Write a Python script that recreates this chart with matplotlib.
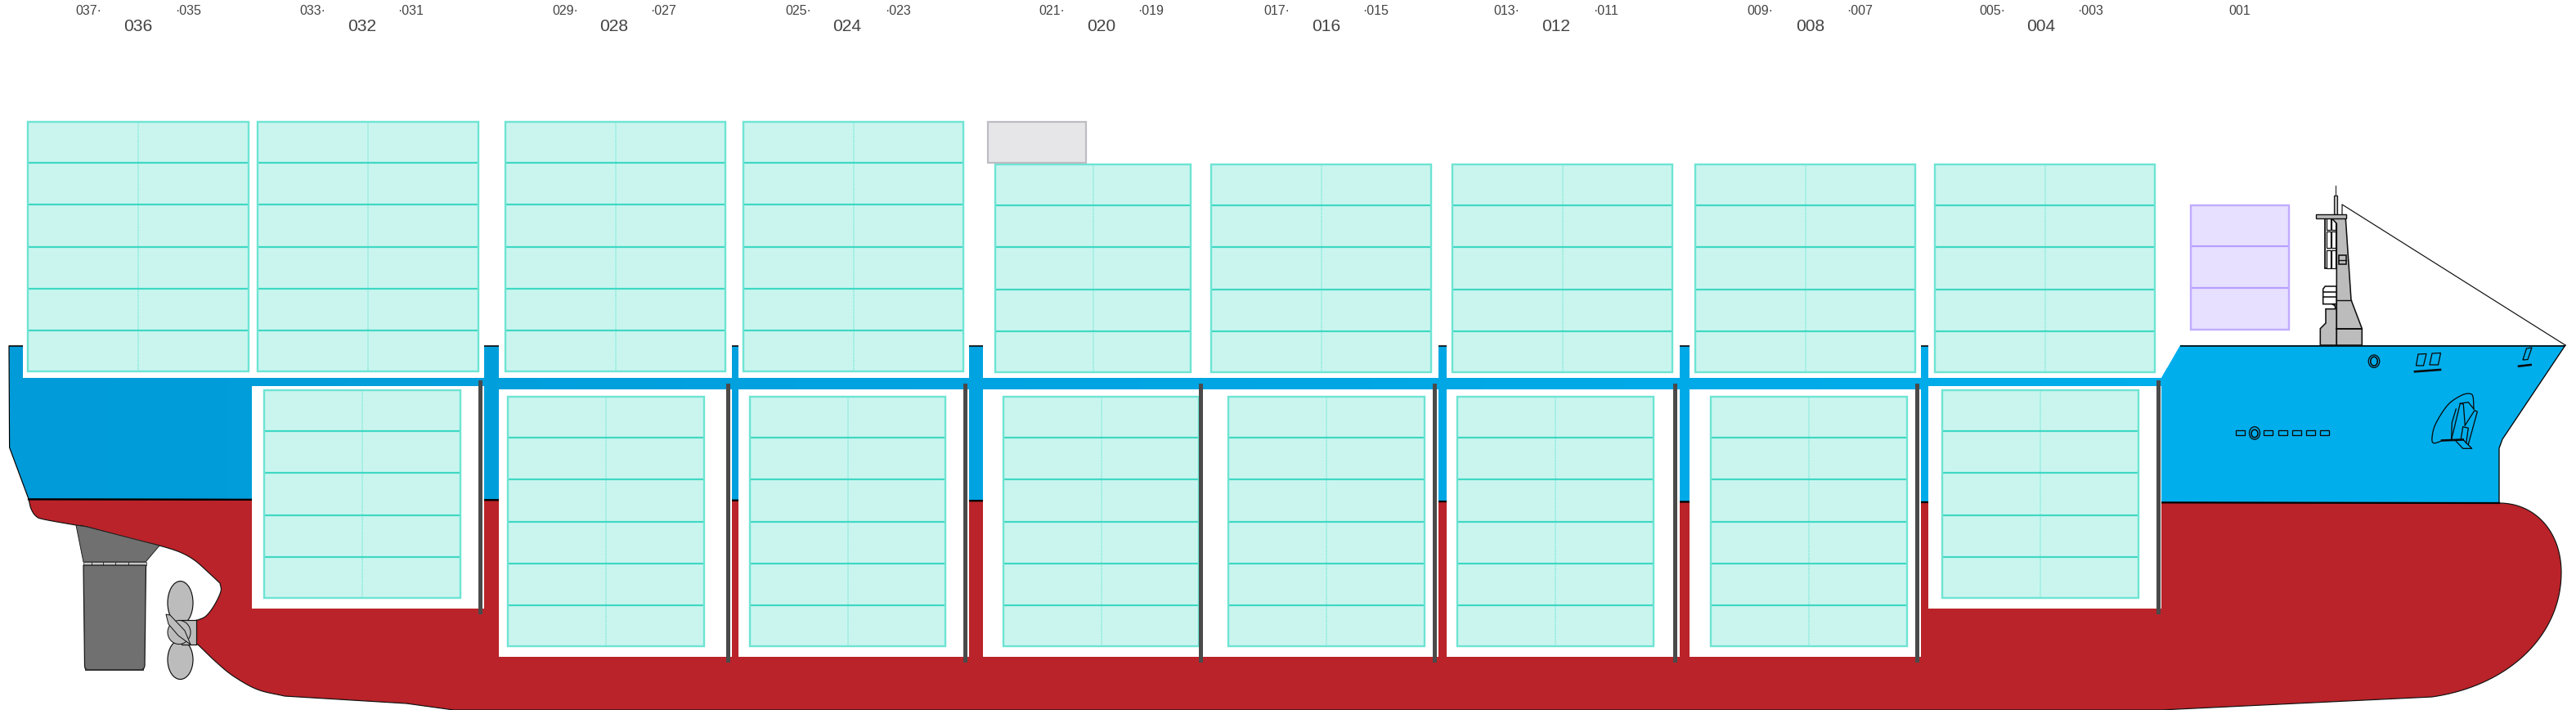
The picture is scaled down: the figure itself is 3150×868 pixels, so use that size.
import numpy as np
import matplotlib
matplotlib.use("Agg")
import matplotlib.pyplot as plt
from matplotlib.patches import Polygon, Rectangle, Ellipse
from matplotlib.colors import LinearSegmentedColormap

# everything is in picture pixels, y down

# bay labels along the top: (text, centre x)
small_labels = ["037·", "·035", "033·", "·031", "029·", "·027", "025·", "·023", "021·", "·019",
                "017·", "·015", "013·", "·011", "009·", "·007", "005·", "·003", "001"]
small_label_x = [108, 230, 382, 502, 691, 811, 976, 1098, 1286, 1407,
                 1561, 1682, 1842, 1963, 2152, 2274, 2436, 2556, 2739]
big_labels = ["036", "032", "028", "024", "020", "016", "012", "008", "004"]
big_label_x = [169, 443, 751, 1036, 1347, 1622, 1903, 2214, 2496]

# container stacks: left, right, top, number of rows
deck_left = [33, 314, 617, 908, 1216, 1480, 1775, 2072, 2365]
deck_right = [305, 586, 888, 1179, 1457, 1751, 2046, 2343, 2636]
deck_top = [148, 148, 148, 148, 200, 200, 200, 200, 200]
deck_rows = [6, 6, 6, 6, 5, 5, 5, 5, 5]

hold_left = [322, 620, 916, 1226, 1501, 1781, 2091, 2374]
hold_right = [564, 862, 1157, 1467, 1743, 2023, 2333, 2616]
hold_top = [476, 484, 484, 484, 484, 484, 484, 476]
hold_rows = [5, 6, 6, 6, 6, 6, 6, 5]

row_height = 51.2

# white openings in the hull
deck_gap_left = [28, 610, 903, 1202, 1769, 2066]
deck_gap_right = [592, 895, 1185, 1759, 2054, 2349]
hold_gap_left = [308, 610, 903, 1202, 1769, 2066, 2358]
hold_gap_right = [592, 895, 1185, 1759, 2054, 2349, 2643]
hold_gap_top = [472, 476, 476, 476, 476, 476, 472]
hold_gap_bottom = [744, 803, 803, 803, 803, 803, 744]

# dark bulkheads
bulkhead_x = [585, 888, 1178, 1466, 1752, 2046, 2342, 2637]
bulkhead_top = [465, 469, 469, 469, 469, 469, 469, 465]
bulkhead_bottom = [751, 810, 810, 810, 810, 810, 810, 751]

# black deck edge on top of each blue column
deck_edge_left = [11, 592, 895, 1185, 1759, 2054, 2349, 2666]
deck_edge_right = [28, 610, 903, 1202, 1769, 2066, 2358, 3137]

spare_box = (1207, 1329, 148, 200)
purple_left, purple_right, purple_top, purple_rows = 2678, 2800, 250, 3

blue_hull = [(11, 423), (2358, 423), (2358, 462), (2643, 462), (2666, 422), (3137, 422),
             (3060, 537), (3056, 548), (3056, 615), (35, 610), (11.6, 547)]
stern_curve = [(35, 610), (38, 622), (44, 631), (54, 635), (93, 642), (106, 644), (166, 660),
               (195, 667), (220, 675), (238, 685), (254, 699), (269, 713)]
aperture_curve = [(269, 713), (270, 723), (262, 740), (252, 753), (242, 758)]
skeg_curve = [(242, 788), (265, 810), (286, 827), (315, 843), (348, 851)]
bottom_line = [(497, 860), (555, 868), (2642, 868), (2974, 852)]
# bezier control points, bottom of the bow round to the waterline
bow_lower = [(2974, 852), (3070, 838), (3132, 775), (3132, 700)]
bow_upper = [(3132, 700), (3132, 650), (3100, 615), (3056, 615)]

skeg_fixed = [(93, 642), (106, 644), (195, 667), (178, 687), (102, 687)]
rudder = [(102, 691), (178.5, 691), (177, 814), (176, 817), (173, 819), (107, 819), (104, 817), (103.5, 814)]
rudder_ticks = [112, 126, 141, 157]

mast_column = [(2851.7, 267.3), (2857.3, 273.3), (2857.3, 422), (2888.3, 422), (2888.3, 401.7),
               (2875, 366.7), (2868.3, 267.3)]
mast_base = [(2837.3, 422), (2837.3, 401.7), (2844, 395), (2844, 377.7), (2856, 377.7),
             (2855, 373.5), (2851.7, 371.7), (2857.3, 371.7), (2857.3, 422)]
mast_stairs = [(2840.7, 371.7), (2840.7, 353.3), (2843.3, 350), (2857.3, 350), (2857.3, 371.7)]
stair_lines = [356.7, 363.3]
ladder_rows = [(267.3, 281), (283, 303), (305.5, 328.3)]

portholes_x = [2739, 2773, 2791, 2808, 2825, 2842]
anchor_pocket = [(2986, 539), (2976, 541.7), (2974, 535), (2978.3, 518.3), (2993.3, 495), (3010, 483.3),
                 (3020, 481.3), (3024, 485), (3025, 500)]
anchor_lines = [[(2997.7, 537.3), (3008.3, 493.3), (3012.3, 494), (3014.3, 520)],
                [(3008.3, 493.3), (3018.3, 491.7), (3025, 500)],
                [(3003.3, 500), (2998.3, 516.7), (2997.7, 537.3)],
                [(3014.3, 520), (3026, 501.7), (3029.3, 503.3), (3018.3, 543.3)],
                [(3009.3, 536.7), (3011.7, 521.7), (3018.3, 523.3), (3015.7, 541.7)],
                [(3003.3, 539.3), (3011.7, 548.3), (3022.7, 548.3), (3011.7, 537.3)]]
bow_windows = [[(2957, 433), (2967, 432.5), (2963.5, 447), (2954.5, 447)],
               [(2974, 432), (2984.5, 431.5), (2981.5, 446), (2971, 446)],
               [(3089.5, 426), (3096, 425), (3091, 439.5), (3085, 440)]]
bow_dashes = [[(2953, 454.3), (2984, 452)], [(3080, 447.7), (3094.7, 446)]]

blue_left = "#009bd8"
blue_right = "#00aeec"
red = "#ba2329"
cell_fill = "#caf5ef"
cell_edge = "#6ee4d3"
cell_line = "#3fd8c3"
cell_mid = "#8aebdc"
grey_part = "#bcbcbc"
rudder_grey = "#707070"


def px(n):
    return n * 0.72


def smooth(pts, n=10):
    # Catmull-Rom through the picked points so the hull curves are not faceted
    p = np.array(pts, dtype=float)
    p = np.vstack([2 * p[0] - p[1], p, 2 * p[-1] - p[-2]])
    out = []
    for i in range(1, len(p) - 2):
        for t in np.linspace(0, 1, n, endpoint=False):
            out.append(0.5 * (2 * p[i] + (p[i + 1] - p[i - 1]) * t
                              + (2 * p[i - 1] - 5 * p[i] + 4 * p[i + 1] - p[i + 2]) * t ** 2
                              + (3 * p[i] - p[i - 1] - 3 * p[i + 1] + p[i + 2]) * t ** 3))
    out.append(p[-2])
    return np.array(out)


def bezier(ctrl, n=40):
    p = np.array(ctrl, dtype=float)
    t = np.linspace(0, 1, n)[:, None]
    return (1 - t) ** 3 * p[0] + 3 * (1 - t) ** 2 * t * p[1] + 3 * (1 - t) * t ** 2 * p[2] + t ** 3 * p[3]


def draw_stack(ax, x0, x1, top, rows, fill=cell_fill, edge=cell_edge, line=cell_line, mid=cell_mid):
    bottom = top + rows * row_height
    ax.add_patch(Rectangle((x0, top), x1 - x0, bottom - top, facecolor=fill, edgecolor="none", zorder=4))
    if mid is not None:
        ax.plot([(x0 + x1) / 2] * 2, [top, bottom], color=mid, lw=px(1.6), ls=(0, (1, 0.6)), zorder=5)
    for r in range(1, rows):
        ax.plot([x0, x1], [top + r * row_height] * 2, color=line, lw=px(2.2), solid_capstyle="butt", zorder=5)
    # border sits just inside the cell area
    ax.add_patch(Rectangle((x0 + 1, top + 1), x1 - x0 - 2, bottom - top - 2, facecolor="none",
                           edgecolor=edge, lw=px(2.4), zorder=6))


plt.rcParams["font.family"] = ["Liberation Sans", "DejaVu Sans"]
fig = plt.figure(figsize=(31.5, 8.68), dpi=100)
ax = fig.add_axes([0, 0, 1, 1])

# hull
grad = LinearSegmentedColormap.from_list("hull", [blue_left, blue_right])
img = ax.imshow(np.linspace(0, 1, 256).reshape(1, -1), cmap=grad, extent=(0, 2650, 868, 0),
                aspect="auto", zorder=1)
blue_patch = Polygon(blue_hull, closed=True, facecolor="none", edgecolor="none", zorder=1)
ax.add_patch(blue_patch)
img.set_clip_path(blue_patch)
right_part = np.array([p for p in blue_hull if p[0] >= 2643] + [(2643, 615)])
ax.add_patch(Polygon(right_part, closed=True, facecolor=blue_right, edgecolor="none", zorder=1))
ax.add_patch(Rectangle((2600, 462), 60, 153, facecolor=blue_right, edgecolor="none", zorder=1))

red_outline = np.vstack([smooth(stern_curve), smooth(aperture_curve),
                         [(240, 758), (240, 788)], smooth(skeg_curve),
                         bottom_line, bezier(bow_lower), bezier(bow_upper)])
ax.add_patch(Polygon(red_outline, closed=True, facecolor=red, edgecolor="#111111", lw=px(1.2), zorder=2))

# outer black lines
ax.plot([11, 11.6, 35], [423, 547, 610], color="black", lw=px(1.2), zorder=2)
ax.plot([3137, 3060, 3056, 3056], [422, 537, 548, 615], color="black", lw=px(1.3), zorder=2)
ax.plot([35, 3056], [610.5, 615], color="black", lw=px(2.2), zorder=3)

for x0, x1 in zip(deck_gap_left, deck_gap_right):
    ax.add_patch(Rectangle((x0, 415), x1 - x0, 47, facecolor="white", edgecolor="none", zorder=3))
for x0, x1, y0, y1 in zip(hold_gap_left, hold_gap_right, hold_gap_top, hold_gap_bottom):
    ax.add_patch(Rectangle((x0, y0), x1 - x0, y1 - y0, facecolor="white", edgecolor="none", zorder=3))
for x0, x1 in zip(deck_edge_left, deck_edge_right):
    ax.plot([x0, x1], [422.5, 422.5], color="black", lw=px(1.6), solid_capstyle="butt", zorder=3)

# containers
for x0, x1, top, rows in zip(deck_left, deck_right, deck_top, deck_rows):
    draw_stack(ax, x0, x1, top, rows)
for x0, x1, top, rows in zip(hold_left, hold_right, hold_top, hold_rows):
    draw_stack(ax, x0, x1, top, rows)
draw_stack(ax, purple_left, purple_right, purple_top, purple_rows, fill="#e7e0ff", edge="#c0acff",
           line="#b69fff", mid=None)
ax.add_patch(Rectangle((spare_box[0] + 1, spare_box[2] + 1), spare_box[1] - spare_box[0] - 2,
                       spare_box[3] - spare_box[2] - 2,
                       facecolor="#e6e6e8", edgecolor="#bdbcc3", lw=px(2.2), zorder=6))

for x, y0, y1 in zip(bulkhead_x, bulkhead_top, bulkhead_bottom):
    ax.add_patch(Rectangle((x, y0), 5, y1 - y0, facecolor="#4a4a4a", edgecolor="none", zorder=7))

# rudder and propeller
ax.add_patch(Polygon(skeg_fixed, closed=True, facecolor=rudder_grey, edgecolor="#222222", lw=px(1), zorder=3))
ax.add_patch(Rectangle((102, 687), 76.5, 4, facecolor="#c8c8c8", edgecolor="#333333", lw=px(0.8), zorder=3))
for x in rudder_ticks:
    ax.plot([x, x], [687, 691], color="#333333", lw=px(1), zorder=3)
ax.add_patch(Polygon(rudder, closed=True, facecolor=rudder_grey, edgecolor="#111111", lw=px(1.2), zorder=3))
ax.plot([105, 175], [819, 819], color="#333333", lw=px(2), zorder=3)

ax.add_patch(Ellipse((220.5, 737), 31, 53, facecolor=grey_part, edgecolor="#111111", lw=px(1.2), zorder=3))
ax.add_patch(Ellipse((220.5, 806.5), 31, 48, facecolor=grey_part, edgecolor="#111111", lw=px(1.2), zorder=3))
ax.add_patch(Polygon([(218, 758), (240, 758), (240, 788), (222, 788)], closed=True, facecolor=grey_part,
                     edgecolor="#111111", lw=px(1.2), zorder=4))
ax.add_patch(Ellipse((219, 773), 28, 29, facecolor=grey_part, edgecolor="#111111", lw=px(1), zorder=4))
ax.add_patch(Polygon([(203, 751), (208, 752), (226, 771), (233, 788), (218, 777), (206, 763)], closed=True,
                     facecolor=grey_part, edgecolor="#111111", lw=px(1), zorder=5))

# forward mast
ax.plot([2864, 2864, 3137], [262, 250, 422], color="#111111", lw=px(1.2), zorder=3)
ax.add_patch(Polygon(mast_stairs, closed=True, facecolor="white", edgecolor="#111111", lw=px(1.6), zorder=3))
for y in stair_lines:
    ax.plot([2840.7, 2857.3], [y, y], color="#111111", lw=px(1.6), zorder=3)
ax.add_patch(Rectangle((2842.7, 267), 14.6, 61.3, facecolor="#dddddd", edgecolor="#111111", lw=px(1.8), zorder=3))
for y0, y1 in ladder_rows:
    ax.add_patch(Rectangle((2844.7, y0), 5, y1 - y0, facecolor="white", edgecolor="#111111", lw=px(1.2), zorder=3))
    ax.add_patch(Rectangle((2850.5, y0), 5, y1 - y0, facecolor="white", edgecolor="#111111", lw=px(1.2), zorder=3))
ax.add_patch(Polygon(mast_base, closed=True, facecolor=grey_part, edgecolor="#111111", lw=px(1.6), zorder=3))
ax.add_patch(Polygon(mast_column, closed=True, facecolor=grey_part, edgecolor="#111111", lw=px(1.6), zorder=3))
ax.plot([2857.3, 2875], [367.3, 367.3], color="#111111", lw=px(1.4), zorder=3)
ax.plot([2857.3, 2888.3], [402.3, 402.3], color="#111111", lw=px(2), zorder=3)
ax.add_patch(Rectangle((2860, 311.7), 9, 11.6, facecolor=grey_part, edgecolor="#111111", lw=px(1.6), zorder=3))
ax.plot([2860, 2869], [317.7, 317.7], color="#111111", lw=px(1.4), zorder=3)
ax.add_patch(Rectangle((2853.5, 239), 4, 23, facecolor=grey_part, edgecolor="#111111", lw=px(1.2), zorder=3))
ax.plot([2855.5, 2855.5], [227, 239], color="#111111", lw=px(1), zorder=3)
ax.add_patch(Rectangle((2832, 262), 37, 5.3, facecolor=grey_part, edgecolor="#111111", lw=px(1.4), zorder=4))

# bow details
for x in portholes_x:
    ax.add_patch(Rectangle((x - 5, 525.7), 10.5, 6.4, facecolor="none", edgecolor="#0a0a0a", lw=px(1.3), zorder=3))
ax.add_patch(Ellipse((2757, 529.5), 13, 15.5, facecolor="none", edgecolor="#0a0a0a", lw=px(1.3), zorder=3))
ax.add_patch(Ellipse((2757, 530), 8, 9.5, facecolor="none", edgecolor="#0a0a0a", lw=px(1.6), zorder=3))
ax.add_patch(Ellipse((2903, 441.7), 13.5, 15.5, facecolor="none", edgecolor="#0a0a0a", lw=px(1.3), zorder=3))
ax.add_patch(Ellipse((2903, 441.7), 8.5, 11, facecolor="none", edgecolor="#0a0a0a", lw=px(1.6), zorder=3))
for w in bow_windows:
    ax.add_patch(Polygon(w, closed=True, facecolor="none", edgecolor="#0a0a0a", lw=px(1.3), zorder=3))
for d in bow_dashes:
    d = np.array(d)
    ax.plot(d[:, 0], d[:, 1], color="#0a0a0a", lw=px(2.6), zorder=3)

pocket = smooth(anchor_pocket)
ax.plot(pocket[:, 0], pocket[:, 1], color="#0a0a0a", lw=px(1.3), zorder=3)
for line in anchor_lines:
    line = np.array(line)
    ax.plot(line[:, 0], line[:, 1], color="#0a0a0a", lw=px(1.3), zorder=3)
ax.plot([2986, 3011.7], [538.5, 537.5], color="#0a0a0a", lw=px(2.6), zorder=3)

# bay numbers
for s, x in zip(small_labels, small_label_x):
    ax.text(x, 14, s, fontsize=px(16), color="#444444", ha="center", va="center")
for s, x in zip(big_labels, big_label_x):
    ax.text(x, 32, s, fontsize=px(21), color="#444444", ha="center", va="center")

ax.set_xlim(0, 3150)
ax.set_ylim(868, 0)
ax.axis("off")
fig.savefig("out.png", dpi=100, facecolor="white")
